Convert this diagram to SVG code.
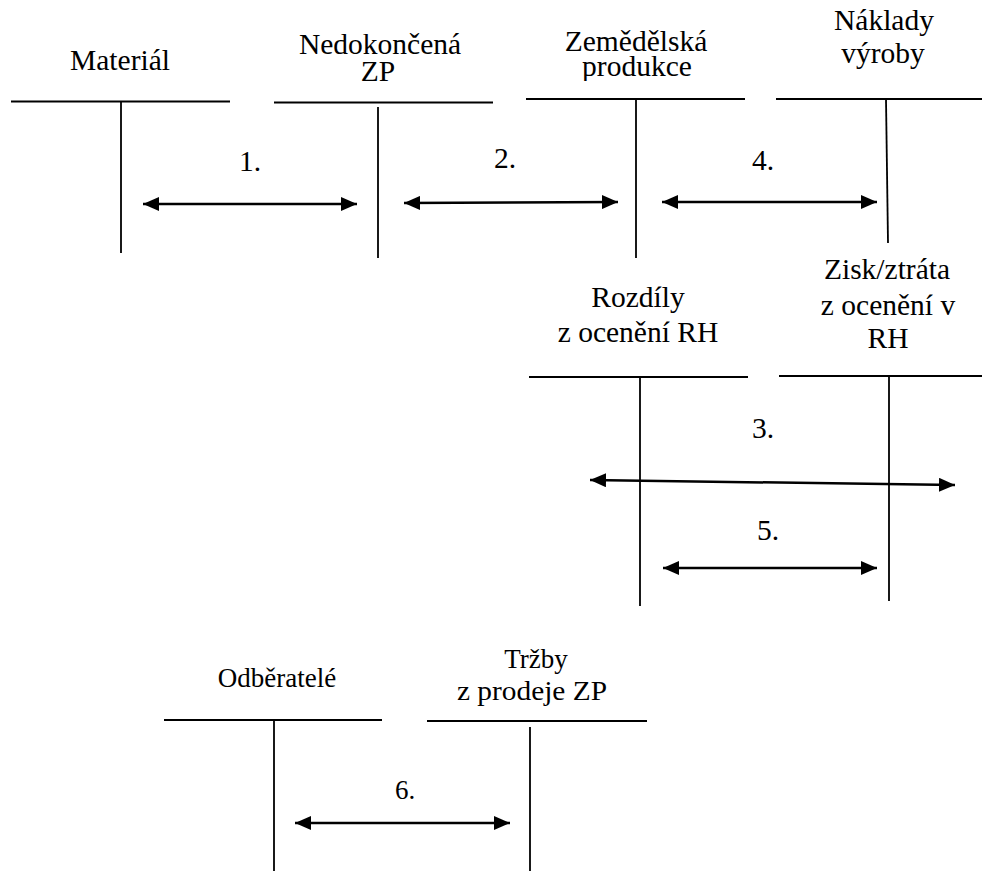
<svg xmlns="http://www.w3.org/2000/svg" width="982" height="871" viewBox="0 0 982 871">
<defs>
<marker id="ah" markerUnits="userSpaceOnUse" viewBox="0 0 16 14" refX="16" refY="7" markerWidth="16" markerHeight="14" orient="auto-start-reverse">
<path d="M0,0 L16,7 L0,14 Z" fill="#000"/>
</marker>
<clipPath id="cz"><rect x="500" y="0" width="280" height="81"/></clipPath>
</defs>
<rect width="982" height="871" fill="#fff"/>
<g id="material" stroke="#000" stroke-width="2">
<text font-family="Liberation Serif, Times New Roman, serif" font-size="29.5" text-anchor="middle" stroke="none" fill="#000" x="120" y="70">Materiál</text>
<line x1="11" y1="101.5" x2="230" y2="101.5"/>
<line stroke-width="1.8" x1="121" y1="101.5" x2="121" y2="253"/>
</g>
<g id="nedokoncena" stroke="#000" stroke-width="2">
<text font-family="Liberation Serif, Times New Roman, serif" font-size="29.5" text-anchor="middle" stroke="none" fill="#000" x="380" y="54">Nedokončená</text>
<text font-family="Liberation Serif, Times New Roman, serif" font-size="29.5" text-anchor="middle" stroke="none" fill="#000" x="378" y="81">ZP</text>
<line x1="274" y1="102.5" x2="493" y2="102.5"/>
<line stroke-width="1.8" x1="378" y1="107" x2="378" y2="258"/>
</g>
<g id="zemedelska" stroke="#000" stroke-width="2">
<g clip-path="url(#cz)">
<text font-family="Liberation Serif, Times New Roman, serif" font-size="29.5" text-anchor="middle" stroke="none" fill="#000" x="636" y="51">Zemědělská</text>
<text font-family="Liberation Serif, Times New Roman, serif" font-size="29.5" text-anchor="middle" stroke="none" fill="#000" x="637" y="76">produkce</text>
</g>
<line x1="526" y1="99" x2="745" y2="99"/>
<line stroke-width="1.8" x1="636" y1="99" x2="636" y2="258"/>
</g>
<g id="naklady" stroke="#000" stroke-width="2">
<text font-family="Liberation Serif, Times New Roman, serif" font-size="29.5" text-anchor="middle" stroke="none" fill="#000" x="884" y="30">Náklady</text>
<text font-family="Liberation Serif, Times New Roman, serif" font-size="29.5" text-anchor="middle" stroke="none" fill="#000" x="883" y="63">výroby</text>
<line x1="776" y1="99" x2="982" y2="99"/>
<line stroke-width="1.8" x1="886" y1="99" x2="888" y2="243"/>
</g>
<g id="rozdily" stroke="#000" stroke-width="2">
<text font-family="Liberation Serif, Times New Roman, serif" font-size="29.5" text-anchor="middle" stroke="none" fill="#000" x="638" y="307">Rozdíly</text>
<text font-family="Liberation Serif, Times New Roman, serif" font-size="29.5" text-anchor="middle" stroke="none" fill="#000" x="638" y="342">z ocenění RH</text>
<line x1="529" y1="377" x2="748" y2="377"/>
<line stroke-width="1.8" x1="640" y1="377" x2="640" y2="606"/>
</g>
<g id="zisk" stroke="#000" stroke-width="2">
<text font-family="Liberation Serif, Times New Roman, serif" font-size="29.5" text-anchor="middle" stroke="none" fill="#000" x="887" y="279">Zisk/ztráta</text>
<text font-family="Liberation Serif, Times New Roman, serif" font-size="29.5" text-anchor="middle" stroke="none" fill="#000" x="888" y="315">z ocenění v</text>
<text font-family="Liberation Serif, Times New Roman, serif" font-size="29.5" text-anchor="middle" stroke="none" fill="#000" x="888" y="348">RH</text>
<line x1="779" y1="376" x2="982" y2="376"/>
<line stroke-width="1.8" x1="889" y1="376" x2="889" y2="601"/>
</g>
<g id="odberatele" stroke="#000" stroke-width="2">
<text font-family="Liberation Serif, Times New Roman, serif" font-size="27" text-anchor="middle" stroke="none" fill="#000" x="277" y="687">Odběratelé</text>
<line x1="164" y1="720" x2="382" y2="720"/>
<line stroke-width="1.8" x1="274" y1="720" x2="274" y2="871"/>
</g>
<g id="trzby" stroke="#000" stroke-width="2">
<text font-family="Liberation Serif, Times New Roman, serif" font-size="27" text-anchor="middle" stroke="none" fill="#000" x="536" y="668">Tržby</text>
<text font-family="Liberation Serif, Times New Roman, serif" font-size="27" text-anchor="middle" stroke="none" fill="#000" x="532" y="700" textLength="150" lengthAdjust="spacingAndGlyphs">z prodeje ZP</text>
<line x1="427" y1="721" x2="647" y2="721"/>
<line stroke-width="1.8" x1="530" y1="727" x2="530" y2="871"/>
</g>
<g id="connectors" stroke="#000" stroke-width="2.5" fill="none">
<line marker-start="url(#ah)" marker-end="url(#ah)" x1="143" y1="204" x2="357" y2="204"/>
<line marker-start="url(#ah)" marker-end="url(#ah)" x1="404" y1="203" x2="618" y2="202"/>
<line marker-start="url(#ah)" marker-end="url(#ah)" x1="662" y1="202" x2="877" y2="202"/>
<line marker-start="url(#ah)" marker-end="url(#ah)" x1="590" y1="480" x2="955" y2="485"/>
<line marker-start="url(#ah)" marker-end="url(#ah)" x1="663" y1="568" x2="877" y2="568"/>
<line marker-start="url(#ah)" marker-end="url(#ah)" x1="295" y1="823" x2="510" y2="823"/>
<g stroke="none" fill="#000" font-family="Liberation Serif, Times New Roman, serif" font-size="29.5" text-anchor="middle">
<text x="250" y="171">1.</text>
<text x="505" y="168">2.</text>
<text x="763" y="170">4.</text>
<text x="763" y="438">3.</text>
<text x="768" y="540">5.</text>
<text font-size="27" x="405" y="799">6.</text>
</g>
</g>
</svg>
